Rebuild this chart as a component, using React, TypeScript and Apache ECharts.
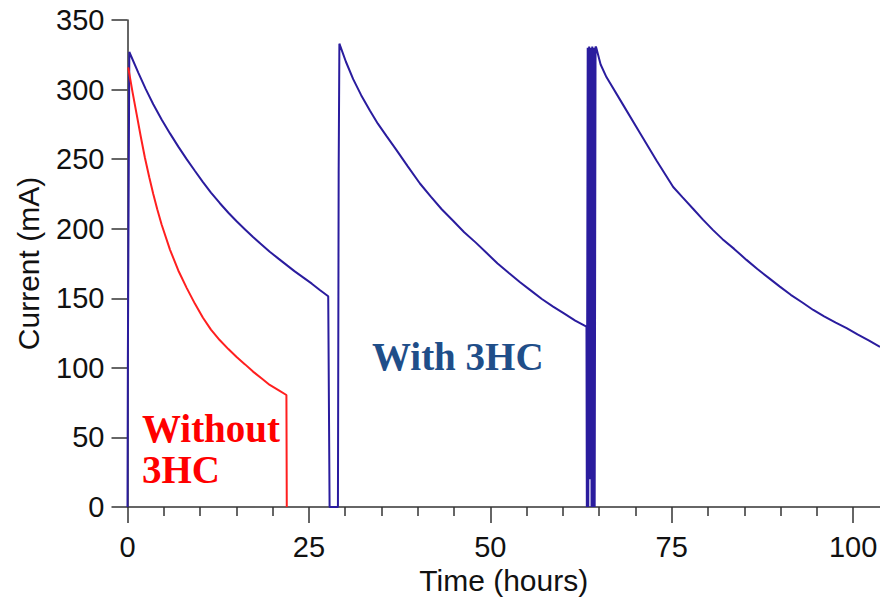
import React, { useEffect, useRef } from "react";
import * as echarts from "echarts";

// "With 3HC" (blue) — time in hours, current in mA
const blueTime = [
  0, 0.05, 0.25, 1.5, 2.5, 3.55, 4.7, 5.85, 7.0, 8.15, 9.3, 10.4, 11.5, 12.7, 13.9, 15.0, 16.2,
  17.3, 18.5, 19.6, 20.8, 21.9, 23.0, 24.2, 25.4, 26.5, 27.66,
  27.85, 29.0, 29.1, 29.2, 30.1, 31.1, 32.2, 33.4, 34.5, 35.7, 37.0, 38.6, 40.3, 41.8, 43.3,
  44.9, 46.4, 48.0, 49.5, 51.0, 52.6, 54.1, 55.6, 57.1, 58.65, 60.2, 61.7, 63.25,
  63.3, 63.42, 63.5, 63.62, 63.72, 63.85, 63.95, 64.05, 64.15, 64.28, 64.38, 64.5, 64.6,
  65.2, 66.0, 68.3, 70.6, 72.9, 75.2, 76.5, 78.0, 79.3, 80.7, 82.0, 83.6, 85.3, 86.8, 88.4,
  89.9, 91.4, 93.0, 94.5, 96.0, 97.6, 99.1, 100.6, 102.2, 103.7,
];
const blueCurrent = [
  0, 105, 327, 312, 300.5, 289.5, 278.5, 268.5, 259, 250, 241.5, 233.5, 226, 218.5, 211.5, 205.5, 199.5,
  194, 188.5, 183.5, 178.5, 174, 169.5, 165, 160.5, 156, 151.5,
  0, 0, 240, 333, 320, 307.5, 296, 285, 275.5, 266.5, 257, 245, 232.5, 223, 214,
  205.5, 197.5, 190, 182.5, 175, 168, 161.5, 155.5, 149.5, 144, 139, 134, 129.6,
  0, 330, 0, 331, 20, 330, 0, 331, 0, 330, 0, 331, 330,
  318, 309, 289, 269, 249, 230, 222.5, 214, 206.5, 199, 192.5, 185.5, 177.6, 171, 164.5,
  158.4, 152.5, 147, 141.6, 137, 132.5, 128.5, 124, 119.5, 115,
];

// "Without 3HC" (red)
const redTime = [
  0.1, 0.7, 1.27, 1.8, 2.4, 3.0, 3.55, 4.1, 4.7, 5.85, 7.0, 8.15, 9.3, 10.4, 11.5, 12.7, 13.9,
  15.0, 16.2, 17.3, 18.5, 19.6, 20.8, 21.9, 21.95,
];
const redCurrent = [
  316, 298, 282, 267, 251, 237, 225, 214, 203, 185, 170, 157.5, 146, 136, 127.5, 120, 113.5,
  108, 102.5, 97.3, 92.3, 87.7, 84, 80.5, 0,
];

const xMajorTicks = [0, 25, 50, 75, 100];
const xMinorTicks = [5, 10, 15, 20, 30, 35, 40, 45, 55, 60, 65, 70, 80, 85, 90, 95];
const X_MAX = 103.7;

export default function App() {
  const ref = useRef<HTMLDivElement>(null);
  useEffect(() => {
    if (!ref.current) return;
    const chart = echarts.init(ref.current, null, { renderer: "svg" });
    const blueData = blueTime.map((t, i) => [t, blueCurrent[i]]);
    const redData = redTime.map((t, i) => [t, redCurrent[i]]);
    const axisColor = "#333";
    const font = "'Liberation Sans', Arial, Helvetica, sans-serif";
    chart.setOption({
      animation: false,
      backgroundColor: "#fff",
      grid: { left: 127.5, right: 0, top: 20, bottom: 90, containLabel: false, outerBoundsMode: "none" },
      xAxis: [
        {
          type: "value",
          min: 0,
          max: X_MAX,
          name: "Time (hours)",
          nameLocation: "middle",
          nameGap: 55,
          nameTextStyle: { fontSize: 30, color: "#111", fontFamily: font },
          axisLine: { show: true, onZero: false, lineStyle: { color: axisColor, width: 1.5 } },
          axisTick: { show: true, length: 16, customValues: xMajorTicks, lineStyle: { color: axisColor, width: 1.5 } },
          axisLabel: { customValues: xMajorTicks, fontSize: 29, color: "#111", margin: 25, fontFamily: font },
          splitLine: { show: false },
        },
        {
          type: "value",
          min: 0,
          max: X_MAX,
          position: "bottom",
          axisLine: { show: false },
          axisTick: { show: true, length: 9, customValues: xMinorTicks, lineStyle: { color: axisColor, width: 1.5 } },
          axisLabel: { show: false },
          splitLine: { show: false },
        },
      ],
      yAxis: {
        type: "value",
        min: 0,
        max: 350,
        interval: 50,
        name: "Current (mA)",
        nameLocation: "middle",
        nameGap: 84,
        nameTextStyle: { fontSize: 30, color: "#111", fontFamily: font },
        axisLine: { show: true, lineStyle: { color: axisColor, width: 1.5 } },
        axisTick: { show: true, length: 16, lineStyle: { color: axisColor, width: 1.5 } },
        axisLabel: { fontSize: 29, color: "#111", margin: 23, fontFamily: font },
        splitLine: { show: false },
      },
      series: [
        {
          type: "line",
          name: "Without 3HC",
          data: redData,
          showSymbol: false,
          lineStyle: { color: "#ff1f1f", width: 2 },
          z: 3,
        },
        {
          type: "line",
          name: "With 3HC",
          data: blueData,
          showSymbol: false,
          lineStyle: { color: "#2a1c9e", width: 2 },
          z: 2,
        },
      ],
      graphic: [
        {
          type: "text",
          left: 142,
          top: 408,
          style: {
            text: "Without\n3HC",
            fill: "#ff0000",
            font: "bold 39px 'Liberation Serif', 'Times New Roman', serif",
            lineHeight: 41,
          },
        },
        {
          type: "text",
          left: 372,
          top: 337,
          style: {
            text: "With 3HC",
            fill: "#1f4e89",
            font: "bold 39px 'Liberation Serif', 'Times New Roman', serif",
          },
        },
      ],
    });
    return () => chart.dispose();
  }, []);
  return (
    <div
      ref={ref}
      style={{ position: "absolute", left: 0, top: 0, width: 880, height: 597 }}
    />
  );
}
